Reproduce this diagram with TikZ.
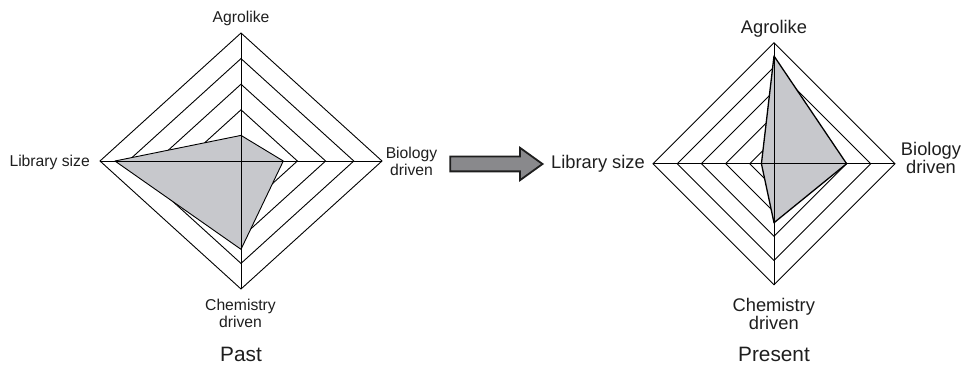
\documentclass[tikz,border=0pt]{standalone}
\usepackage{fontspec}
\setmainfont{Liberation Sans}
\usetikzlibrary{positioning}

\definecolor{areagray}{RGB}{199,200,204}
\definecolor{arrowgray}{RGB}{137,137,140}
\definecolor{inkgray}{RGB}{30,30,30}

\begin{document}
\begin{tikzpicture}[x=1pt, y=-1pt, line join=miter]

\tikzstyle{every node}=[inner sep=0pt, text=inkgray]
\tikzstyle{ring}=[draw=black, line width=0.9pt]
\tikzstyle{area}=[fill=areagray, draw=black, line width=0.9pt, line join=round]
\tikzstyle{axis}=[draw=black, line width=0.9pt]
\tikzstyle{small}=[font=\fontsize{15.7}{17.2}\selectfont, align=center]
\tikzstyle{large}=[font=\fontsize{18.3}{17.8}\selectfont, align=center]
\tikzstyle{caption}=[font=\fontsize{20.8}{24}\selectfont]

\useasboundingbox (0,0) rectangle (964,366);

% past
\begin{scope}[shift={(241,161)}, x=28.2pt, y=-25.6pt]
\foreach \r in {1,...,5}
  \draw[ring] (-\r,0) -- (0,-\r) -- (\r,0) -- (0,\r) -- cycle;
\draw[area] (0,-1) -- (1.5,0) -- (0,3.45) -- (-4.47,0) -- cycle;
\draw[axis] (-5,0) coordinate (p-lib) -- (5,0) coordinate (p-bio);
\draw[axis] (0,-5) coordinate (p-agro) -- (0,5) coordinate (p-chem);
\end{scope}

\node[small, anchor=base] (agro1) at (241,22.7) {Agrolike};
\node[small, anchor=base east] (lib1) at (90,166.5) {Library size};
\node[small, anchor=north] (bio1) at (411.5,146.8) {Biology\\driven};
\node[small, anchor=north] (chem1) at (240.5,298.5) {Chemistry\\driven};
\node[caption, anchor=base] (past) at (241,361.5) {Past};

% shift between the two
\draw[fill=arrowgray, draw=inkgray, line width=1.8pt]
  (450.2,156.6) -- (520,156.6) -- (520,147.8) -- (542.5,164)
  -- (520,180.2) -- (520,171.4) -- (450.2,171.4) -- cycle;

% present
\begin{scope}[shift={(774,163.7)}, x=24.2pt, y=-24.2pt]
\foreach \r in {1,...,5}
  \draw[ring] (-\r,0) -- (0,-\r) -- (\r,0) -- (0,\r) -- cycle;
\draw[area, line width=1.3pt] (0,-4.45) -- (3,0) -- (0,2.44) -- (-0.52,0) -- cycle;
\draw[axis] (-5,0) coordinate (q-lib) -- (5,0) coordinate (q-bio);
\draw[axis] (0,-5) coordinate (q-agro) -- (0,5) coordinate (q-chem);
\end{scope}

\node[large, anchor=base] (agro2) at (774,33.3) {Agrolike};
\node[large, anchor=base east] (lib2) at (645,169) {Library size};
\node[large, anchor=north] (bio2) at (931,141.9) {Biology\\driven};
\node[large, anchor=north] (chem2) at (773.8,297.9) {Chemistry\\driven};
\node[caption, anchor=base] (present) at (774,361.5) {Present};

\end{tikzpicture}
\end{document}
